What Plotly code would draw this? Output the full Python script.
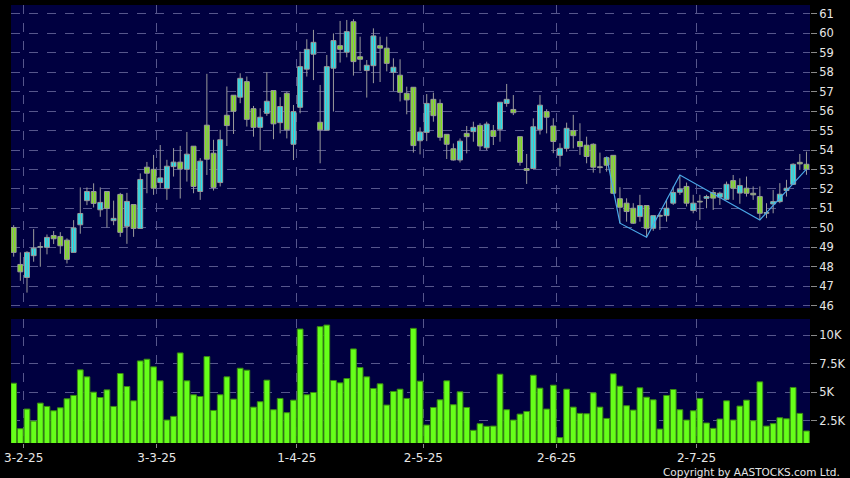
import pandas as pd
import plotly.graph_objects as go

# ---------------- data ----------------
holidays = ["2025-01-29", "2025-01-30", "2025-01-31", "2025-04-04", "2025-04-18",
            "2025-04-21", "2025-05-01", "2025-05-05", "2025-07-01"]
dates = [d for d in pd.bdate_range("2025-01-27", "2025-07-24")
         if d.strftime("%Y-%m-%d") not in holidays]

opens = [50.02, 48.12, 47.45, 48.57, 49.00, 49.00, 49.61, 49.56, 49.37, 48.74,
         50.16, 51.40, 51.87, 50.93, 51.87, 50.37, 51.72, 50.08, 51.20, 49.97,
         53.12, 53.01, 52.33, 52.02, 53.15, 53.38, 53.01, 54.20, 51.87, 55.28,
         53.84, 52.33, 55.79, 56.82, 56.72, 57.52, 56.13, 55.17, 55.89, 57.06,
         55.41, 56.92, 54.30, 56.20, 58.16, 58.93, 55.43, 55.02, 58.21, 59.37,
         59.03, 60.60, 58.80, 58.09, 58.34, 59.37, 59.24, 58.00, 57.85, 56.92,
         57.23, 54.48, 54.91, 56.61, 56.40, 54.81, 54.07, 53.49, 54.86, 54.95,
         55.27, 54.12, 55.01, 55.07, 56.40, 56.09, 54.69, 53.05, 53.05, 55.06,
         55.98, 55.24, 53.73, 54.09, 55.00, 54.44, 54.25, 54.30, 53.13, 53.61,
         53.73, 51.50, 51.27, 51.01, 50.58, 51.15, 49.98, 50.63, 50.63, 51.27,
         51.83, 52.13, 50.89, 51.35, 51.52, 51.82, 51.58, 51.47, 52.43, 51.79,
         52.04, 51.78, 51.61, 50.77, 51.23, 51.35, 51.92, 52.24, 53.37, 53.27]
highs = [50.14, 48.74, 48.80, 49.94, 49.27, 49.66, 49.84, 49.78, 49.46, 50.40,
         52.08, 52.08, 52.29, 52.08, 51.87, 51.40, 51.80, 51.80, 51.20, 52.80,
         53.39, 53.75, 54.26, 53.50, 54.10, 54.22, 54.93, 54.20, 53.59, 57.92,
         54.53, 55.04, 57.27, 56.82, 57.95, 57.78, 56.27, 56.15, 58.00, 57.06,
         56.72, 57.00, 56.32, 59.06, 59.70, 60.18, 57.35, 58.89, 60.00, 60.64,
         60.69, 60.73, 59.83, 58.63, 60.26, 59.83, 59.83, 58.72, 58.67, 57.26,
         57.23, 55.17, 56.88, 56.95, 56.61, 54.81, 54.34, 54.60, 55.24, 55.46,
         55.38, 55.46, 55.29, 56.46, 57.40, 56.83, 54.69, 53.80, 55.63, 56.83,
         56.10, 55.64, 54.35, 55.41, 55.81, 55.38, 54.69, 54.35, 53.87, 53.66,
         53.73, 52.09, 51.52, 51.27, 51.70, 51.15, 50.63, 50.75, 51.44, 52.13,
         52.72, 52.33, 51.70, 51.70, 51.70, 51.95, 51.86, 52.38, 52.72, 52.55,
         52.64, 52.13, 52.13, 51.27, 51.95, 52.30, 52.47, 53.32, 53.80, 53.92]
lows = [48.52, 47.28, 46.67, 48.26, 48.00, 48.64, 49.17, 48.67, 48.17, 48.74,
        49.70, 51.17, 51.05, 50.57, 50.02, 50.14, 49.54, 49.18, 49.54, 49.97,
        51.78, 51.70, 52.04, 51.44, 52.64, 51.51, 52.38, 51.78, 51.44, 52.72,
        51.92, 52.13, 54.21, 54.83, 56.41, 55.21, 54.69, 54.00, 55.76, 54.56,
        54.86, 54.60, 53.49, 55.89, 57.78, 57.60, 53.32, 55.00, 55.98, 58.50,
        58.77, 57.83, 58.07, 56.70, 57.44, 57.50, 58.05, 57.04, 56.50, 55.84,
        53.87, 53.78, 54.46, 55.46, 54.48, 53.54, 53.46, 53.36, 53.83, 54.43,
        54.00, 54.00, 54.26, 54.43, 56.23, 55.80, 53.20, 52.26, 53.05, 54.80,
        54.86, 53.84, 53.15, 53.92, 54.09, 53.75, 53.32, 52.84, 52.81, 52.89,
        51.74, 50.24, 50.32, 50.20, 50.32, 49.52, 49.85, 49.90, 50.32, 51.18,
        51.70, 51.10, 50.75, 50.41, 51.01, 50.92, 51.18, 51.44, 51.44, 51.24,
        51.61, 51.44, 50.41, 50.50, 50.75, 51.27, 51.61, 52.21, 52.98, 52.73]
closes = [48.74, 47.74, 48.74, 48.96, 49.02, 49.51, 49.44, 49.08, 48.38, 50.00,
          50.74, 51.87, 51.26, 51.31, 51.00, 50.49, 49.77, 51.36, 49.97, 52.49,
          52.81, 52.04, 52.57, 53.17, 53.38, 53.03, 53.79, 52.13, 53.43, 53.53,
          52.08, 54.53, 55.26, 56.00, 57.69, 55.58, 55.17, 55.69, 56.51, 55.35,
          56.24, 55.04, 55.98, 58.29, 59.18, 59.54, 55.04, 58.29, 59.63, 59.18,
          60.09, 58.55, 58.67, 58.36, 59.87, 59.24, 58.46, 58.26, 56.97, 56.58,
          54.23, 54.93, 56.40, 55.77, 54.66, 54.30, 53.49, 54.46, 54.69, 55.17,
          54.21, 55.34, 54.70, 56.46, 56.61, 55.92, 53.37, 52.95, 55.20, 56.31,
          55.69, 54.44, 54.09, 55.12, 54.74, 54.18, 53.67, 53.12, 53.10, 53.22,
          51.78, 51.06, 50.84, 50.24, 51.15, 49.98, 50.63, 50.60, 51.01, 51.82,
          51.99, 51.27, 51.27, 51.33, 51.61, 51.53, 51.78, 52.24, 52.04, 52.18,
          51.78, 51.70, 50.75, 50.75, 51.35, 51.73, 52.04, 53.27, 53.29, 53.02]
volumes_k = [5.78, 1.80, 3.52, 2.47, 4.04, 3.75, 3.37, 3.63, 4.42, 4.71,
             6.95, 6.34, 5.00, 4.53, 5.20, 3.75, 6.63, 5.49, 4.24, 7.73,
             7.88, 7.21, 5.99, 2.56, 2.88, 8.43, 5.99, 4.77, 4.62, 8.11,
             3.40, 4.77, 6.34, 4.39, 7.09, 6.92, 3.69, 4.16, 6.05, 3.46,
             4.45, 3.20, 4.30, 10.52, 4.77, 4.97, 10.73, 10.87, 6.02, 5.81,
             6.19, 8.78, 7.15, 6.34, 5.32, 5.73, 3.87, 5.06, 5.26, 4.45,
             10.58, 5.96, 2.12, 3.66, 4.33, 5.99, 3.90, 5.03, 3.66, 1.66,
             2.24, 2.01, 2.03, 6.57, 3.46, 2.56, 3.08, 3.31, 6.48, 5.35,
             3.52, 5.61, 1.02, 5.26, 3.69, 3.14, 3.11, 4.94, 3.69, 2.70,
             6.60, 5.52, 3.81, 3.43, 5.38, 4.56, 4.33, 1.77, 4.71, 5.23,
             3.46, 2.56, 3.37, 4.45, 2.30, 1.83, 2.65, 4.24, 2.56, 3.78,
             4.30, 2.50, 5.90, 2.03, 2.24, 2.76, 2.67, 5.41, 3.14, 1.60]

# zigzag pivots: (candle index, which price)
zz_points = [(89, "high"), (91, "low"), (95, "low"), (100, "high"), (112, "low"), (119, "close")]

price_ticks = list(range(46, 62))
vol_ticks = [2.5, 5, 7.5, 10]
vol_tick_text = ["2.5K", "5K", "7.5K", "10K"]

# ---------------- derived ----------------
idx = list(range(len(dates)))
series = {"high": highs, "low": lows, "close": closes, "open": opens}
zz_x = [i for i, _ in zz_points]
zz_y = [series[k][i] for i, k in zz_points]

month_first = [i for i in range(1, len(dates)) if dates[i].month != dates[i - 1].month]
grid_pos = [i - 0.5 for i in month_first]
month_labels = [f"{dates[i].day}-{dates[i].month}-{dates[i]:%y}" for i in month_first]

# ---------------- style ----------------
UP = "#1EE6F0"
DOWN = "#80E21E"
WICK = "#9A9A9A"
VOL = "#66FF1A"
VOL_LINE = "#3A8C12"
GRID = "#56568C"
ZZ = "#4AA8E8"
TXT = "#E6E6E6"
FONT = "DejaVu Sans"

body_base = [min(o, c) for o, c in zip(opens, closes)]
body_h = [max(abs(c - o), 0.04) for o, c in zip(opens, closes)]
body_col = [UP if c > o else DOWN for o, c in zip(opens, closes)]
wick_x, wick_y = [], []
for i, h, l in zip(idx, highs, lows):
    wick_x += [i, i, None]
    wick_y += [l, h, None]

fig = go.Figure()
fig.add_trace(go.Scatter(
    x=wick_x, y=wick_y, mode="lines", line=dict(color=WICK, width=1),
    xaxis="x", yaxis="y", showlegend=False, hoverinfo="skip"))
fig.add_trace(go.Bar(
    x=idx, y=body_h, base=body_base, width=0.74,
    marker=dict(color=body_col, line=dict(color=WICK, width=1)),
    xaxis="x", yaxis="y", showlegend=False, hoverinfo="skip"))
fig.add_trace(go.Scatter(
    x=zz_x, y=zz_y, mode="lines", line=dict(color=ZZ, width=1.2),
    xaxis="x", yaxis="y", showlegend=False, hoverinfo="skip"))
fig.add_trace(go.Bar(
    x=idx, y=volumes_k, width=0.86,
    marker=dict(color=VOL, line=dict(color=VOL_LINE, width=1)),
    xaxis="x2", yaxis="y2", showlegend=False, hoverinfo="skip"))

xr = [-0.4, len(dates) - 1 + 0.53]
axis_common = dict(showline=False, zeroline=False, gridcolor=GRID, griddash="dash", gridwidth=1)

fig.update_layout(
    width=850, height=478,
    paper_bgcolor="#000000", plot_bgcolor="#000040",
    margin=dict(l=4, r=36, t=5, b=35),
    showlegend=False, barmode="overlay",
    font=dict(family=FONT, color=TXT, size=12),
    xaxis=dict(domain=[0, 1], anchor="y", range=xr, tickvals=grid_pos,
               showticklabels=False, ticks="", showgrid=True, **axis_common),
    yaxis=dict(domain=[0.3082, 1], anchor="x", side="right", range=[45.88, 61.46],
               tickvals=price_ticks, ticks="outside", ticklen=6, tickcolor="#8A8A8A",
               tickfont=dict(size=11.5, color=TXT, family=FONT), showgrid=True,
               ticklabeloverflow="allow", **axis_common),
    xaxis2=dict(domain=[0, 1], anchor="y2", matches="x", range=xr, tickvals=grid_pos,
                ticktext=month_labels, ticks="outside", ticklen=4, tickcolor="#8A8A8A",
                tickfont=dict(size=12, color=TXT, family=FONT), showgrid=True,
                ticklabeloverflow="allow", **axis_common),
    yaxis2=dict(domain=[0, 0.2831], anchor="x2", side="right", range=[0.55, 11.4],
                tickvals=vol_ticks, ticktext=vol_tick_text, ticks="outside", ticklen=6,
                tickcolor="#8A8A8A", tickfont=dict(size=11.5, color=TXT, family=FONT),
                showgrid=True, ticklabeloverflow="allow", **axis_common),
    annotations=[dict(text="Copyright by AASTOCKS.com Ltd.", xref="paper", yref="paper",
                      x=1.0395, y=-0.066, xanchor="right", yanchor="middle", showarrow=False,
                      font=dict(size=10.5, color=TXT, family=FONT))],
)

fig.write_html("out.html", config={"displayModeBar": False},
               post_script="document.body.style.margin='0';")
